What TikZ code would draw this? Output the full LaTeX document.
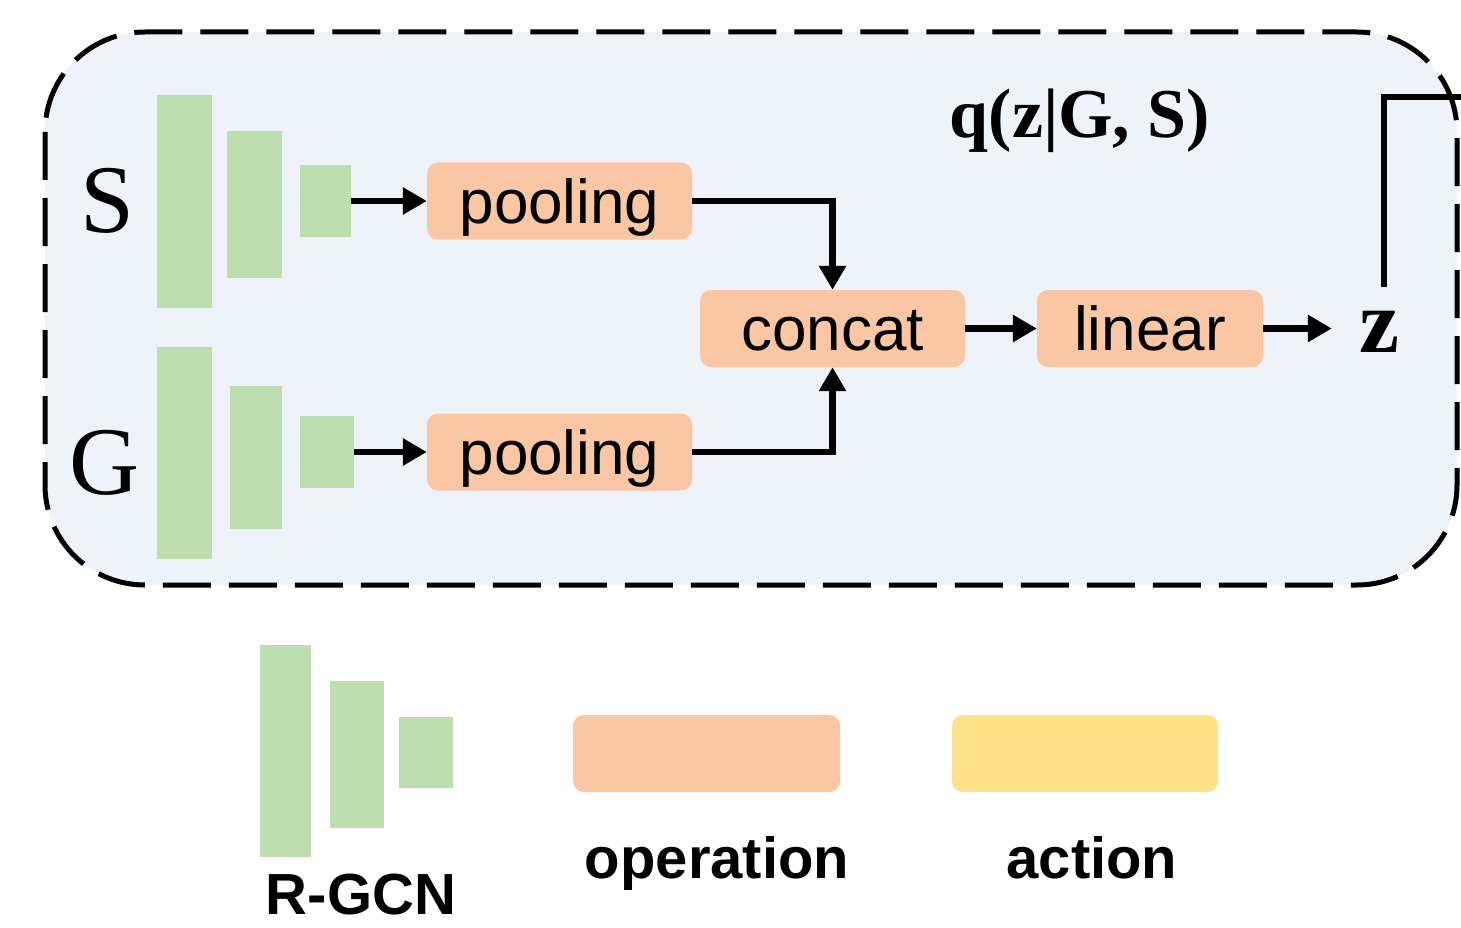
\documentclass[tikz,border=0pt]{standalone}
\usepackage{fontspec}
\setmainfont{Liberation Serif}
\newfontfamily\sansf{Liberation Sans}
\usetikzlibrary{arrows.meta}
\definecolor{boxblue}{HTML}{EEF3FA}
\definecolor{gcn}{HTML}{BDDFAF}
\definecolor{opcol}{HTML}{FBC6A4}
\definecolor{actcol}{HTML}{FEE28A}
\tikzset{
  bar/.style={fill=gcn, draw=none, inner sep=0pt},
  opbox/.style={fill=opcol, draw=none, rounded corners=11pt, inner sep=0pt,
    minimum height=77pt, text height=44pt, text depth=0pt,
    font=\sansf\fontsize{62}{62}\selectfont},
  actbox/.style={fill=actcol, draw=none, rounded corners=11pt, inner sep=0pt, minimum height=77pt},
  conn/.style={line width=6.5pt, -{Triangle[length=24pt,width=26pt]}},
  plain/.style={line width=6.5pt},
  legendtxt/.style={font=\sansf\bfseries\fontsize{58}{58}\selectfont, inner sep=0pt, anchor=base},
  serifbig/.style={font=\fontsize{97}{97}\selectfont, inner sep=0pt, anchor=base},
}
\begin{document}
\begin{tikzpicture}[x=1pt,y=-1pt]
\clip (0,0) rectangle (1461,928);
\fill[white] (0,0) rectangle (1461,928);
% container
\draw[fill=boxblue, line width=5pt, dash pattern=on 48pt off 18pt, rounded corners=100pt]
  (45,32) rectangle (1457,585);
% labels S / G
\node[serifbig] (Slab) at (107,233) {S};
\node[serifbig] (Glab) at (105,494) {G};
% S R-GCN bars
\node[bar, minimum width=55pt, minimum height=213pt] (s1) at (184.5,201.5) {};
\node[bar, minimum width=55pt, minimum height=147pt] (s2) at (254.5,204.5) {};
\node[bar, minimum width=51pt, minimum height=72pt] (s3) at (325.5,201) {};
% G R-GCN bars
\node[bar, minimum width=55pt, minimum height=212pt] (g1) at (184.5,453) {};
\node[bar, minimum width=52pt, minimum height=143pt] (g2) at (256,457.5) {};
\node[bar, minimum width=54pt, minimum height=72pt] (g3) at (327,452) {};
% operations
\node[opbox, minimum width=265pt] (poolS) at (559.5,201) {pooling};
\node[opbox, minimum width=265pt] (poolG) at (559.5,452) {pooling};
\node[opbox, minimum width=265pt] (concat) at (832.5,328.5) {concat};
\node[opbox, minimum width=226pt] (linear) at (1150,328.5) {linear};
\node[font=\bfseries\fontsize{90}{90}\selectfont, inner sep=0pt, minimum width=94pt, minimum height=90pt,
  text height=40pt, text depth=0pt] (z) at (1379,332) {z};
\node[font=\bfseries\fontsize{70}{70}\selectfont, inner sep=0pt, anchor=base] (q) at (1080,138) {q(z|G, S)};
\coordinate (zout) at (1461,97);
% connectors
\draw[conn] (s3) -- (poolS);
\draw[conn] (g3) -- (poolG);
\draw[conn] (poolS.east) -| (concat.north);
\draw[conn] (poolG.east) -| (concat.south);
\draw[conn] (concat) -- (linear);
\draw[conn] (linear.east) -- (linear.east -| z.west);
\draw[plain] ([xshift=5pt]z.north) |- (zout);
% legend
\node[bar, minimum width=51pt, minimum height=212pt] (l1) at (285.5,751) {};
\node[bar, minimum width=54pt, minimum height=147pt] (l2) at (357,754.5) {};
\node[bar, minimum width=54pt, minimum height=71pt] (l3) at (426,752.5) {};
\node[legendtxt] (rgcn) at (361,914) {R-GCN};
\node[opbox, minimum width=267pt] (legop) at (706.5,753.5) {};
\node[actbox, minimum width=266pt] (legact) at (1085,753.5) {};
\node[legendtxt] (optxt) at (717,878) {operation};
\node[legendtxt] (acttxt) at (1092,878) {action};
\end{tikzpicture}
\end{document}
